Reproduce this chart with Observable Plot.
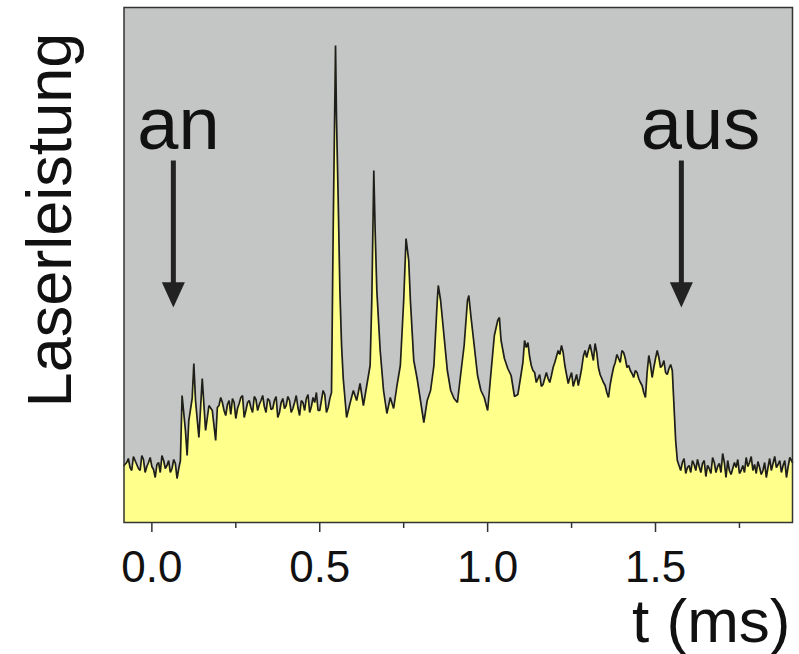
<!DOCTYPE html>
<html>
<head>
<meta charset="utf-8">
<script src="https://cdn.jsdelivr.net/npm/d3@7"></script>
<script src="https://cdn.jsdelivr.net/npm/@observablehq/plot@0.6"></script>
<style>
html,body{margin:0;padding:0;background:#fff;}
</style>
</head>
<body>
<div id="chart"></div>
<script>
// time in ms
const t = [
-0.083,-0.07,-0.06,-0.05,-0.04,-0.03,-0.02,-0.01,0.00,0.01,0.02,0.03,0.04,0.05,0.06,0.07,0.075,0.08,0.085,0.09,
0.10,0.105,0.11,0.12,0.125,0.13,0.14,0.15,0.16,0.17,0.18,0.19,0.20,0.21,0.22,0.23,0.24,0.25,0.26,0.27,
0.28,0.29,0.30,0.31,0.32,0.33,0.34,0.35,0.36,0.37,0.38,0.39,0.40,0.41,0.42,0.43,0.44,0.45,0.46,0.47,
0.48,0.49,0.50,0.51,0.52,0.53,0.535,0.54,0.547,0.55,0.555,0.56,0.565,0.57,0.58,0.59,0.60,0.61,0.62,0.63,
0.64,0.65,0.655,0.661,0.665,0.67,0.68,0.69,0.70,0.71,0.72,0.73,0.74,0.75,0.757,0.765,0.77,0.78,0.79,0.80,
0.81,0.82,0.83,0.84,0.85,0.853,0.86,0.87,0.88,0.89,0.90,0.91,0.92,0.93,0.94,0.944,0.95,0.96,0.97,0.98,
0.99,1.00,1.01,1.02,1.03,1.035,1.04,1.05,1.06,1.07,1.08,1.09,1.10,1.11,1.12,1.13,1.14,1.15,1.16,1.17,
1.18,1.19,1.20,1.21,1.22,1.23,1.24,1.25,1.26,1.27,1.28,1.29,1.30,1.31,1.32,1.33,1.34,1.35,1.36,1.37,
1.38,1.39,1.40,1.41,1.42,1.43,1.44,1.45,1.46,1.47,1.48,1.49,1.50,1.51,1.52,1.53,1.54,1.55,1.56,1.565,
1.57,1.58,1.59,1.60,1.61,1.62,1.63,1.64,1.65,1.66,1.67,1.68,1.69,1.70,1.71,1.72,1.73,1.74,1.75,1.76,
1.77,1.78,1.79,1.80,1.81,1.82,1.83,1.84,1.85,1.86,1.87,1.88,1.89,1.90,1.908
];
// laser power (arbitrary units)
const power = [
0.57,0.64,0.52,0.62,0.54,0.67,0.50,0.60,0.56,0.45,0.60,0.67,0.54,0.62,0.54,0.59,0.44,0.54,0.62,1.27,
0.92,0.67,1.02,1.24,1.59,1.22,0.85,1.44,0.92,1.17,1.12,0.82,1.17,1.20,1.07,1.22,1.24,1.04,1.19,1.27,
1.12,1.22,1.10,1.23,1.18,1.27,1.10,1.22,1.14,1.26,1.10,1.24,1.17,1.22,1.14,1.27,1.07,1.20,1.24,1.10,
1.25,1.30,1.12,1.32,1.10,1.24,1.30,2.92,4.77,4.02,3.22,2.32,1.77,1.44,1.05,1.19,1.32,1.22,1.39,1.17,
1.37,1.57,2.22,3.52,2.92,2.32,1.72,1.32,1.09,1.25,1.14,1.37,1.57,2.22,2.84,2.62,2.22,1.62,1.44,1.22,
1.00,1.22,1.32,1.57,2.22,2.37,2.22,1.87,1.52,1.32,1.24,1.20,1.49,1.77,2.22,2.27,2.07,1.77,1.47,1.32,
1.25,1.12,1.50,1.87,2.02,2.05,1.82,1.64,1.54,1.47,1.26,1.28,1.49,1.82,1.80,1.57,1.50,1.44,1.36,1.44,
1.44,1.47,1.60,1.72,1.77,1.57,1.39,1.50,1.42,1.37,1.54,1.72,1.72,1.70,1.79,1.55,1.44,1.37,1.25,1.47,
1.60,1.64,1.72,1.64,1.57,1.49,1.52,1.44,1.37,1.25,1.67,1.45,1.64,1.65,1.57,1.50,1.54,1.52,0.82,0.62,
0.57,0.60,0.49,0.57,0.62,0.52,0.56,0.59,0.46,0.54,0.65,0.50,0.59,0.69,0.45,0.52,0.54,0.55,0.49,0.57,
0.65,0.60,0.52,0.49,0.55,0.52,0.45,0.64,0.59,0.55,0.62,0.57,0.45,0.65,0.60
];
// extra in-between samples of the noisy trace
const tExtra = [
-0.075,-0.065,-0.055,-0.045,-0.035,-0.025,-0.015,-0.005,0.005,0.015,0.025,0.035,0.045,0.055,0.065,
0.195,0.205,0.215,0.225,0.235,0.245,0.255,0.265,0.275,0.285,0.295,0.305,0.315,0.325,0.335,0.345,0.355,
0.365,0.375,0.385,0.395,0.405,0.415,0.425,0.435,0.445,0.455,0.465,0.475,0.485,0.495,0.505,0.515,0.525,
1.105,1.115,1.125,1.135,1.145,1.155,1.165,1.175,1.185,1.195,1.205,1.215,1.225,1.235,1.245,1.255,1.265,
1.275,1.285,1.295,1.305,1.315,1.325,1.335,1.345,1.355,1.365,1.375,1.385,1.395,1.405,1.415,1.425,1.435,
1.445,1.455,1.465,1.475,1.485,1.495,1.505,1.515,1.525,1.535,1.545,
1.575,1.585,1.595,1.605,1.615,1.625,1.635,1.645,1.655,1.665,1.675,1.685,1.695,1.705,1.715,1.725,1.735,
1.745,1.755,1.765,1.775,1.785,1.795,1.805,1.815,1.825,1.835,1.845,1.855,1.865,1.875,1.885,1.895
];
const powerExtra = [
0.60,0.55,0.66,0.58,0.52,0.63,0.56,0.65,0.53,0.58,0.50,0.62,0.57,0.50,0.63,
1.15,1.25,1.12,1.18,1.08,1.20,1.14,1.25,1.05,1.20,1.15,1.26,1.12,1.22,1.16,1.24,1.13,
1.22,1.05,1.20,1.14,1.26,1.10,1.20,1.15,1.22,1.12,1.28,1.16,1.20,1.12,1.22,1.28,1.15,
1.60,1.75,1.66,1.52,1.40,1.48,1.38,1.50,1.40,1.55,1.66,1.68,1.70,1.48,1.45,1.36,1.48,
1.45,1.66,1.65,1.78,1.62,1.70,1.48,1.40,1.30,1.38,1.55,1.68,1.60,1.70,1.55,1.52,1.45,
1.50,1.40,1.30,1.50,1.58,1.55,1.72,1.55,1.62,1.48,1.58,
0.52,0.64,0.55,0.50,0.58,0.63,0.50,0.62,0.57,0.49,0.60,0.56,0.50,0.60,0.62,0.48,0.60,
0.63,0.52,0.50,0.56,0.66,0.58,0.61,0.48,0.60,0.55,0.52,0.66,0.58,0.50,0.62,0.56
];
const majorTicks = [0, 0.5, 1.0, 1.5];
const minorTicks = [0.25, 0.75, 1.25, 1.75];
const markerLabels = ["an", "aus"];
const markerLabelT = [0.079, 1.634];
const markerArrowT = [0.064, 1.577];

const data = t.map((d, i) => ({t: d, p: power[i]}))
  .concat(tExtra.map((d, i) => ({t: d, p: powerExtra[i]})))
  .sort((a, b) => a.t - b.t);
const labels = markerLabels.map((s, i) => ({s, t: markerLabelT[i], y: 3.74}));
const arrows = markerArrowT.map(a => ({t: a, top: 3.62, base: 2.36, tip: 2.15}));

const headDown = {
  draw(ctx, size) {
    const s = Math.sqrt(size);
    ctx.moveTo(0, 0);
    ctx.lineTo(-s / 2, -s * 1.1);
    ctx.lineTo(s / 2, -s * 1.1);
    ctx.closePath();
  }
};

const chart = Plot.plot({
  width: 799,
  height: 654,
  marginLeft: 123.5,
  marginRight: 7,
  marginTop: 7,
  marginBottom: 132,
  style: {background: "#fff", fontFamily: "'Liberation Sans', Arial, sans-serif", color: "#111"},
  x: {domain: [-0.083, 1.908]},
  y: {domain: [0, 5.15], axis: null},
  marks: [
    Plot.frame({fill: "#c4c5c5", stroke: null}),
    Plot.areaY(data, {x: "t", y: "p", fill: "#ffff8c"}),
    Plot.lineY(data, {x: "t", y: "p", stroke: "#1e1e1a", strokeWidth: 1.7, strokeLinejoin: "miter"}),
    Plot.frame({stroke: "#333", strokeWidth: 1.5}),
    Plot.axisX(majorTicks, {tickFormat: d => d.toFixed(1), tickSize: 10, tickPadding: 18, fontSize: 44, label: null, stroke: "#333", strokeWidth: 1.5}),
    Plot.axisX(minorTicks, {tickFormat: () => "", tickSize: 6, label: null, stroke: "#333", strokeWidth: 1.5}),
    Plot.link(arrows, {x1: "t", x2: "t", y1: "top", y2: "base", stroke: "#222", strokeWidth: 5}),
    Plot.dot(arrows, {x: "t", y: "tip", symbol: headDown, r: 13, fill: "#222", stroke: null}),
    Plot.text(labels, {x: "t", y: "y", text: "s", fontSize: 74, lineAnchor: "bottom", fill: "#111"}),
    Plot.text(["Laserleistung"], {text: d => d, frameAnchor: "left", rotate: -90, dx: -53, dy: -45, fontSize: 63, textAnchor: "middle", lineAnchor: "bottom", fill: "#111"}),
    Plot.text(["t (ms)"], {text: d => d, frameAnchor: "bottom-right", dx: -2, dy: 119, fontSize: 62, textAnchor: "end", lineAnchor: "bottom", fill: "#111"})
  ]
});
document.getElementById("chart").appendChild(chart);
</script>
</body>
</html>
